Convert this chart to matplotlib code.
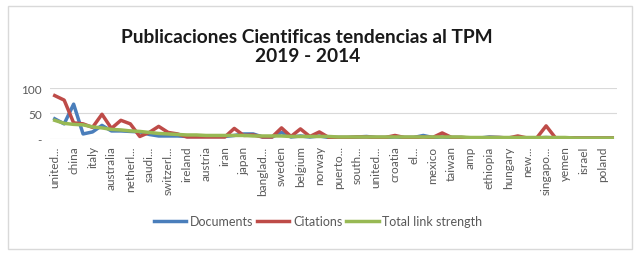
import numpy as np
import matplotlib
matplotlib.use("Agg")
import matplotlib.pyplot as plt
from matplotlib.patches import Rectangle

plt.rcParams['font.family'] = ['Lato', 'DejaVu Sans']

# 60 countries; only every second name is printed on the axis
n_cat = 60
shown_labels = ['united...', 'china', 'italy', 'australia', 'netherl...', 'saudi...',
                'switzerl...', 'ireland', 'austria', 'iran', 'japan', 'banglad...',
                'sweden', 'belgium', 'norway', 'puerto...', 'south...', 'united...',
                'croatia', 'el...', 'mexico', 'taiwan', 'amp', 'ethiopia', 'hungary',
                'new...', 'singapo...', 'yemen', 'israel', 'poland']

documents = [39, 29, 68, 9, 13, 26, 15, 15, 14, 13, 8, 5, 5, 5, 4, 4, 4, 4, 4, 6,
             9, 9, 3, 3, 12, 3, 5, 3, 5, 2, 2, 2, 3, 4, 2, 2, 3, 2, 2, 6,
             2, 3, 2, 2, 1, 1, 3, 2, 1, 2, 1, 1, 2, 1, 1, 1, 1, 1, 1, 1]
citations = [85, 76, 31, 29, 22, 48, 20, 36, 29, 4, 12, 24, 12, 9, 3, 3, 3, 3, 3, 20,
             6, 7, 3, 3, 21, 4, 19, 4, 13, 2, 2, 2, 3, 3, 2, 2, 6, 2, 2, 3,
             2, 11, 2, 2, 1, 1, 2, 2, 1, 5, 1, 1, 25, 1, 1, 1, 1, 1, 1, 1]
link_strength = [36, 30, 28, 27, 23, 21, 18, 17, 15, 14, 12, 10, 9, 8, 7, 7, 6, 6, 6, 6,
                 6, 5, 5, 5, 5, 4, 4, 4, 4, 4, 3, 3, 3, 3, 3, 3, 3, 3, 3, 3,
                 3, 3, 3, 3, 2, 2, 2, 2, 2, 2, 2, 2, 2, 2, 2, 1, 1, 1, 1, 1]

x = np.arange(n_cat)

fig = plt.figure(figsize=(6.4, 2.55), dpi=100)
fig.patches.append(Rectangle((8 / 640, 0.02), 624 / 640, 1 - 7 / 255 - 0.02,
                             transform=fig.transFigure, fill=False,
                             edgecolor='#d9d9d9', linewidth=1))

ax = fig.add_axes([50 / 640, 1 - 139.5 / 255, 567 / 640, 50.5 / 255])
ax.plot(x, documents, color='#4a7ebb', lw=2.5, label='Documents')
ax.plot(x, citations, color='#be4b48', lw=2.5, label='Citations')
ax.plot(x, link_strength, color='#98b954', lw=2.5, label='Total link strength')

ax.set_xlim(-0.5, n_cat - 0.5)
ax.set_ylim(0, 100)
ax.set_yticks([0, 50, 100])
ax.set_yticklabels(['-', '50', '100'])
ax.set_xticks(x[::2])
ax.set_xticklabels(shown_labels, rotation=90)
ax.tick_params(length=0, labelsize=8.5, labelcolor='#595959')
ax.tick_params(axis='y', pad=6)
ax.tick_params(axis='x', pad=5)
ax.grid(axis='y', color='#d9d9d9', lw=0.8)
ax.set_axisbelow(True)
for s in ax.spines.values():
    s.set_visible(False)

fig.text(0.48, 1 - 47 / 255, 'Publicaciones Cientificas tendencias al TPM\n2019 - 2014',
         ha='center', va='center', fontsize=13.8, fontweight='bold', color='#1a1a1a',
         linespacing=1.15)

fig.legend(loc='center', bbox_to_anchor=(0.497, 1 - 222 / 255), ncol=3, frameon=False,
           fontsize=9, handlelength=2.6, handletextpad=0.3, columnspacing=0.3,
           labelcolor='#595959')

fig.savefig('out.png', dpi=100)
